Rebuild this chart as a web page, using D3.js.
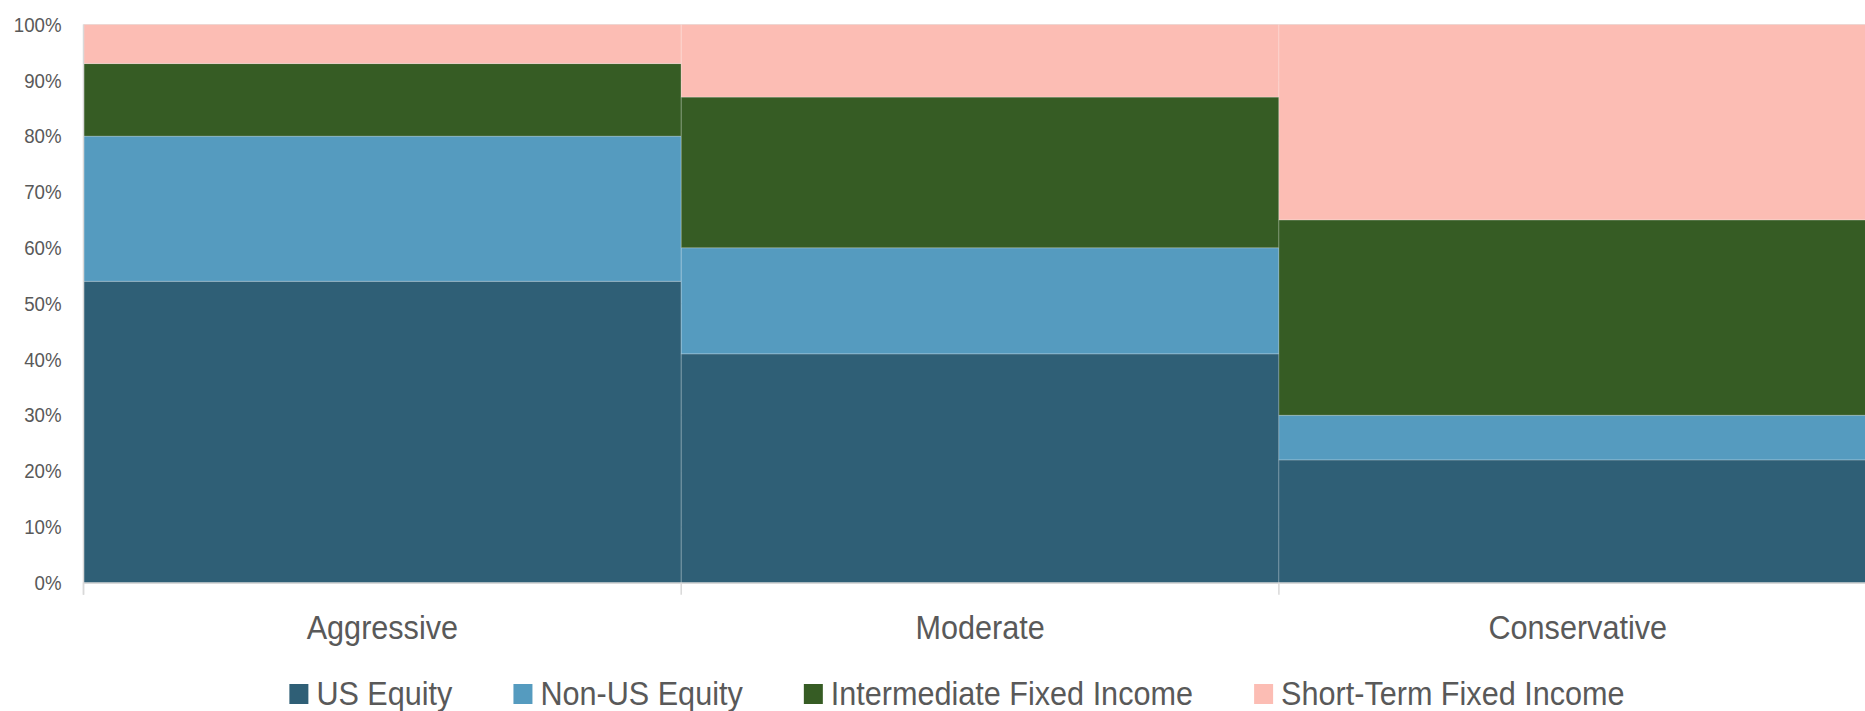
<!DOCTYPE html>
<html>
<head>
<meta charset="utf-8">
<script src="https://cdn.jsdelivr.net/npm/d3@7"></script>
<style>
  html, body { margin: 0; padding: 0; background: #fff; }
  svg { display: block; font-family: "Liberation Sans", Arial, sans-serif; }
</style>
</head>
<body>
<svg></svg>
<script>
// Portfolio allocation stacked columns
const categories = ["Aggressive", "Moderate", "Conservative"];
const seriesNames = ["US Equity", "Non-US Equity", "Intermediate Fixed Income", "Short-Term Fixed Income"];
const usEquity = [54, 41, 22];
const nonUsEquity = [26, 19, 8];
const intermediateFixed = [13, 27, 35];
const shortTermFixed = [7, 13, 35];
const yTicks = [0, 10, 20, 30, 40, 50, 60, 70, 80, 90, 100];
const colors = ["#2f5f76", "#559bbf", "#365c24", "#fcbdb4"];

const width = 1865;
const height = 711;
const squeeze = 0.9; // text in the original is a bit condensed
const textColor = "#595959";

const svg = d3.select("svg")
    .attr("width", width)
    .attr("height", height)
    .attr("viewBox", `0 0 ${width} ${height}`);

const plotLeft = 83.5, plotTop = 24.5, plotBottom = 582.7, band = 597.7;

const x = d3.scaleBand()
    .domain(categories)
    .range([plotLeft, plotLeft + band * categories.length])
    .padding(0);

const y = d3.scaleLinear()
    .domain([0, 100])
    .range([plotBottom, plotTop]);

const rows = categories.map((c, i) => ({
    category: c,
    "US Equity": usEquity[i],
    "Non-US Equity": nonUsEquity[i],
    "Intermediate Fixed Income": intermediateFixed[i],
    "Short-Term Fixed Income": shortTermFixed[i]
}));

const stacked = d3.stack().keys(seriesNames)(rows);

// gridlines
svg.append("g")
    .selectAll("line")
    .data(yTicks)
    .enter().append("line")
    .attr("x1", plotLeft).attr("x2", x.range()[1])
    .attr("y1", d => y(d)).attr("y2", d => y(d))
    .attr("stroke", "#d9d9d9")
    .attr("stroke-width", 1.2);

// bars
svg.append("g")
    .selectAll("g")
    .data(stacked)
    .enter().append("g")
    .attr("fill", (d, i) => colors[i])
    .selectAll("rect")
    .data(d => d)
    .enter().append("rect")
    .attr("x", d => x(d.data.category))
    .attr("width", x.bandwidth())
    .attr("y", d => y(d[1]))
    .attr("height", d => y(d[0]) - y(d[1]))
    .attr("stroke", "#ffffff")
    .attr("stroke-opacity", 0.22)
    .attr("stroke-width", 1);

// y axis
const yAxis = svg.append("g")
    .attr("transform", `translate(${plotLeft},0)`)
    .call(d3.axisLeft(y).tickValues(yTicks).tickFormat(d => d + "%").tickSize(0).tickPadding(22));
yAxis.select(".domain").remove();
yAxis.selectAll("text")
    .attr("fill", textColor)
    .attr("font-size", 21)
    .attr("font-family", "Liberation Sans, Arial, sans-serif")
    .attr("transform", `translate(-22,0) scale(0.89,1) translate(22,0)`);

// axis lines
svg.append("line")
    .attr("x1", plotLeft).attr("x2", plotLeft)
    .attr("y1", plotTop).attr("y2", plotBottom + 12)
    .attr("stroke", "#d9d9d9").attr("stroke-width", 1.5);
svg.append("line")
    .attr("x1", plotLeft).attr("x2", x.range()[1])
    .attr("y1", plotBottom + 0.5).attr("y2", plotBottom + 0.5)
    .attr("stroke", "#d9d9d9").attr("stroke-width", 1.5);

// category separators below the axis
const bounds = categories.map(c => x(c)).concat([x.range()[1]]);
svg.append("g")
    .selectAll("line")
    .data(bounds)
    .enter().append("line")
    .attr("x1", d => d).attr("x2", d => d)
    .attr("y1", plotBottom).attr("y2", plotBottom + 12)
    .attr("stroke", "#d9d9d9").attr("stroke-width", 1.5);

// category labels
svg.append("g")
    .selectAll("text")
    .data(categories)
    .enter().append("text")
    .attr("transform", d => `translate(${x(d) + x.bandwidth() / 2},639) scale(${squeeze},1)`)
    .attr("text-anchor", "middle")
    .attr("fill", textColor)
    .attr("font-size", 34)
    .text(d => d);

// legend
const legend = svg.append("g");
const items = legend.selectAll("g")
    .data(seriesNames)
    .enter().append("g");
items.append("rect")
    .attr("width", 19).attr("height", 20)
    .attr("y", 684)
    .attr("fill", (d, i) => colors[i]);
items.append("text")
    .attr("fill", textColor)
    .attr("font-size", 34)
    .text(d => d);

let cursor = 0;
const offsets = [];
items.each(function () {
    const w = d3.select(this).select("text").node().getComputedTextLength() * squeeze;
    offsets.push(cursor);
    cursor += 27 + w + 61;
});
const total = cursor - 61;
const start = 957 - total / 2;
items.each(function (d, i) {
    const g = d3.select(this);
    const x0 = start + offsets[i];
    g.select("rect").attr("x", x0);
    g.select("text").attr("transform", `translate(${x0 + 27},705) scale(${squeeze},1)`);
});
</script>
</body>
</html>
